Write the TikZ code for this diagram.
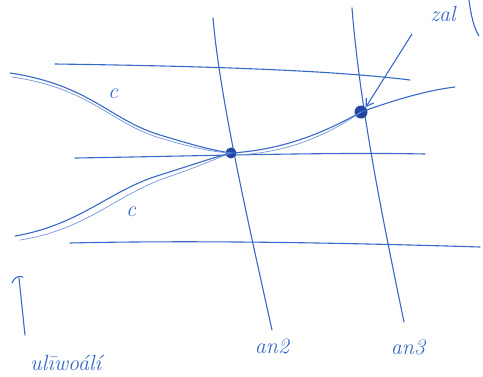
\documentclass[tikz,border=0pt]{standalone}
\usetikzlibrary{arrows.meta}
\definecolor{pen}{RGB}{55,105,200}
\definecolor{penD}{RGB}{35,70,160}
\tikzset{
  ink/.style={draw=pen, line width=1.1pt, line cap=round},
  thin ink/.style={draw=pen!70, line width=0.7pt, line cap=round},
  hand/.style={text=pen, font=\itshape\fontsize{22}{24}\selectfont, inner sep=0pt},
  dotnode/.style={circle, fill=penD, minimum size=13pt, inner sep=0pt},
}
\begin{document}
\begin{tikzpicture}[x=1pt,y=-1pt]
\useasboundingbox (0,0) rectangle (483,376);
\begin{scope}
\clip (0,0) rectangle (483,376);
% horizontal lines
\coordinate (h1a) at (55,64); \coordinate (h1b) at (410,80);
\coordinate (h2a) at (75,158); \coordinate (h2b) at (425,154);
\coordinate (h3a) at (70,243); \coordinate (h3b) at (480,247);
\draw[ink] (h1a) .. controls (200,66) and (330,70) .. (h1b);
\draw[ink] (h2a) .. controls (200,156) and (330,152) .. (h2b);
\draw[ink] (h3a) .. controls (200,240) and (350,243) .. (h3b);
% vertical lines
\coordinate (v1a) at (213,18); \coordinate (v1b) at (272,330);
\coordinate (v2a) at (352,8); \coordinate (v2b) at (404,322);
\draw[ink] (v1a) .. controls (220,100) and (250,230) .. (v1b);
\draw[ink] (v2a) .. controls (360,110) and (385,230) .. (v2b);
% dots
\node[dotnode, minimum size=11pt] (p1) at (231,153) {};
\node[dotnode] (p2) at (361,112) {};
% upper curve c
\coordinate (u0) at (10,73);
\coordinate (u3) at (455,87);
\draw[ink] (u0) .. controls (90,85) and (110,120) .. (160,135) .. controls (190,144) and (210,150) .. (p1.center);
\draw[thin ink] (12,77) .. controls (90,88) and (112,124) .. (160,138) .. controls (190,147) and (212,152) .. (p1.center);
\draw[ink] (p1.center) .. controls (280,150) and (320,135) .. (p2.center) .. controls (400,98) and (430,90) .. (u3);
\draw[thin ink] (236,155) .. controls (282,153) and (322,139) .. (p2.center);
% lower curve c
\coordinate (l0) at (15,236);
\draw[ink] (l0) .. controls (80,225) and (110,190) .. (160,175) .. controls (195,164) and (215,157) .. (p1.center);
\draw[thin ink] (20,240) .. controls (85,230) and (115,196) .. (165,178) .. controls (195,168) and (215,159) .. (p1.center);
% labels c
\node[hand] (c1) at (113,94) {c};
\node[hand] (c2) at (131,212) {c};
% arrow to p2
\node[hand] (zal) at (443,14) {zal};
\coordinate (arrS) at (412,34);
\draw[ink, -{Straight Barb[length=7pt,width=9pt]}] (arrS) -- (p2.north east);
\draw[ink] (469,0) .. controls (471,16) and (474,28) .. (479,36);
% left vertical arrow
\coordinate (la) at (25,335); \coordinate (lb) at (19,278);
\draw[ink] (la) -- (lb);
\draw[ink] (12,283) .. controls (14,278) and (18,275) .. (23,277);
% axis labels
\node[hand] (a2) at (272,346) {an2};
\node[hand] (a3) at (408,347) {an3};
% bottom text
\node[hand, anchor=base west] (bt) at (30,370) {ul\={\i}wo\'al\'\i};
\end{scope}
\end{tikzpicture}
\end{document}
